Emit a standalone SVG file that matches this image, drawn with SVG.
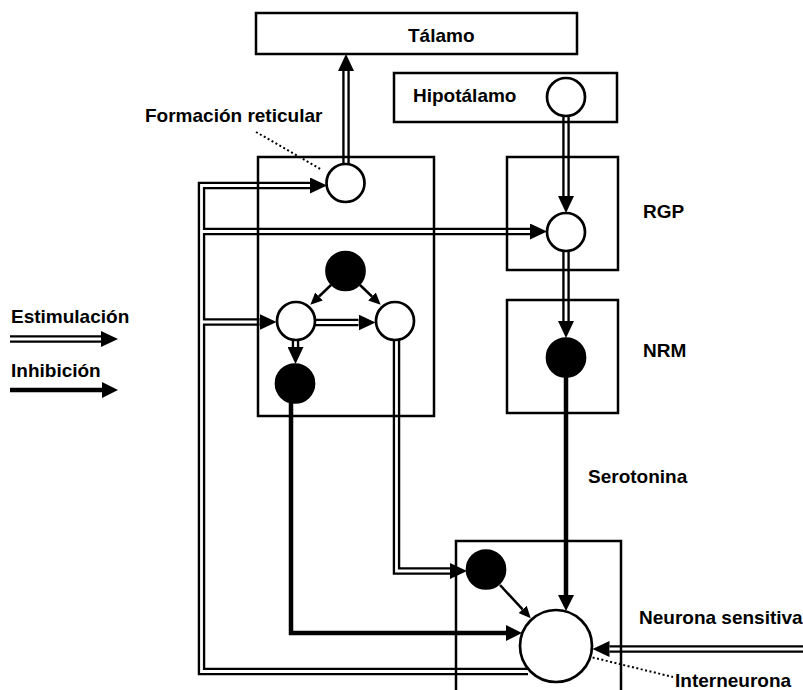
<svg xmlns="http://www.w3.org/2000/svg" width="803" height="690" viewBox="0 0 803 690">
<style>
text{font-family:"Liberation Sans",Arial,sans-serif;font-weight:bold;font-size:19px;fill:#000}
.box{fill:none;stroke:#000;stroke-width:2.5}
.open{fill:#fff;stroke:#000;stroke-width:2.7}
.full{fill:#000;stroke:#000;stroke-width:2.7}
.dk{fill:none;stroke:#000;stroke-width:7.5;stroke-linejoin:miter}
.wt{fill:none;stroke:#fff;stroke-width:2.8;stroke-linejoin:miter}
.thick{fill:none;stroke:#000;stroke-width:4.5}
.thin{fill:none;stroke:#000;stroke-width:2.5}
.dot{fill:none;stroke:#000;stroke-width:2;stroke-dasharray:2 2.5}
</style>
<defs>
<marker id="ad" markerUnits="userSpaceOnUse" markerWidth="17" markerHeight="16" refX="0" refY="8" orient="auto"><path d="M0,0 L17,8 L0,16 z" fill="#000"/></marker>
<marker id="at" markerUnits="userSpaceOnUse" markerWidth="16" markerHeight="16" refX="0" refY="8" orient="auto"><path d="M0,0 L16,8 L0,16 z" fill="#000"/></marker>
<marker id="an" markerUnits="userSpaceOnUse" markerWidth="12" markerHeight="11" refX="0" refY="5.5" orient="auto"><path d="M0,0 L12,5.5 L0,11 z" fill="#000"/></marker>
</defs>
<rect width="803" height="690" fill="#fff"/>

<g id="connectors">
<path class="dk" d="M346,164 V71" marker-end="url(#ad)"/>
<path class="dk" d="M566,116 V196" marker-end="url(#ad)"/>
<path class="dk" d="M566,251 V321" marker-end="url(#ad)"/>
<path class="dk" d="M528,671.5 H201.5 V185.5 H310" marker-end="url(#ad)"/>
<path class="dk" d="M201.5,231.5 H530" marker-end="url(#ad)"/>
<path class="dk" d="M201.5,322 H259.5" marker-end="url(#ad)"/>
<path class="dk" d="M315,322.5 H358.5" marker-end="url(#ad)"/>
<path class="dk" d="M295.5,340 V347" marker-end="url(#ad)"/>
<path class="dk" d="M396.5,340 V571 H450" marker-end="url(#ad)"/>
<path class="dk" d="M803,649 H609.5" marker-end="url(#ad)"/>
<path class="dk" d="M10,339 H101" marker-end="url(#ad)"/>
<path class="wt" d="M346,164 V71"/>
<path class="wt" d="M566,116 V196"/>
<path class="wt" d="M566,251 V321"/>
<path class="wt" d="M528,671.5 H201.5 V185.5 H310"/>
<path class="wt" d="M201.5,231.5 H530"/>
<path class="wt" d="M201.5,322 H259.5"/>
<path class="wt" d="M315,322.5 H358.5"/>
<path class="wt" d="M295.5,340 V347"/>
<path class="wt" d="M396.5,340 V571 H450"/>
<path class="wt" d="M803,649 H609.5"/>
<path class="wt" d="M10,339 H101"/>
<path class="thick" d="M566,377 V595" marker-end="url(#at)"/>
<path class="thick" d="M291,403 V633 H506" marker-end="url(#at)"/>
<path class="thick" d="M10,390 H102" marker-end="url(#at)"/>
<path class="thin" d="M331,285 L319,296.5" marker-end="url(#an)"/>
<path class="thin" d="M360,285 L372,296.5" marker-end="url(#an)"/>
<path class="thin" d="M500,585 L522.6,609.4" marker-end="url(#an)"/>
<path class="dot" d="M256,132 L322,170"/>
<path class="dot" d="M562,650 L673,677"/>
</g>

<g id="talamo"><rect class="box" x="256" y="13" width="321" height="41"/><text x="408" y="42">Tálamo</text></g>
<g id="hipotalamo"><rect class="box" x="394" y="73" width="223" height="49"/><text x="413" y="102">Hipotálamo</text><circle class="open" cx="566" cy="97" r="19"/></g>
<g id="formacion-reticular">
<rect class="box" x="258" y="157" width="176" height="259"/>
<text x="145" y="122">Formación reticular</text>
<circle class="open" cx="345.5" cy="183" r="19"/>
<circle class="full" cx="345.5" cy="271" r="19"/>
<circle class="open" cx="296" cy="321" r="19"/>
<circle class="open" cx="395" cy="321" r="19"/>
<circle class="full" cx="295" cy="383.5" r="19"/>
</g>
<g id="rgp"><rect class="box" x="507" y="157" width="111" height="113"/><circle class="open" cx="566" cy="232" r="19"/><text x="643" y="218">RGP</text></g>
<g id="nrm"><rect class="box" x="507" y="300" width="111" height="113"/><circle class="full" cx="566" cy="357.5" r="19"/><text x="643" y="357">NRM</text></g>
<g id="serotonina"><text x="588" y="483">Serotonina</text></g>
<g id="medula">
<path class="box" d="M456,692 V541 H621 V692"/>
<circle class="full" cx="486" cy="569.5" r="19"/>
</g>
<g id="interneurona"><circle class="open" cx="556" cy="646" r="36"/><text x="675" y="687">Interneurona</text></g>
<g id="neurona-sensitiva"><text x="639" y="624">Neurona sensitiva</text></g>
<g id="leyenda"><text x="11" y="323">Estimulación</text><text x="11" y="377">Inhibición</text></g>
</svg>
